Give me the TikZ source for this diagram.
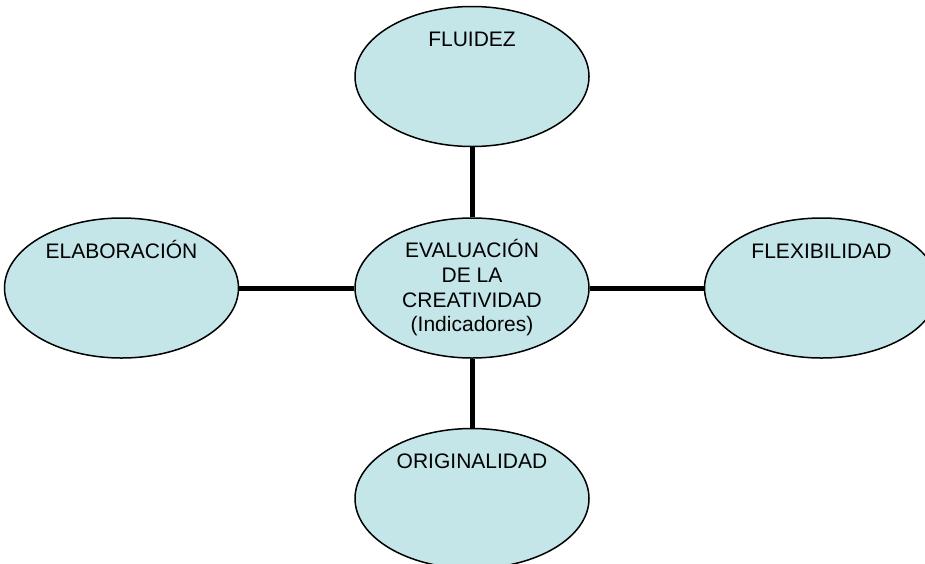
\documentclass[tikz,border=0pt]{standalone}
\usepackage{fontspec}
\setmainfont{Liberation Sans}
\usetikzlibrary{positioning, shapes.geometric}
\definecolor{ovalfill}{RGB}{196,230,232}

\begin{document}
\begin{tikzpicture}[
    every node/.style={font=\fontsize{21}{24.7}\selectfont},
    oval/.style={ellipse, draw, line width=1.5pt, fill=ovalfill, minimum width=234pt, minimum height=140pt, inner sep=0pt, align=center},
    item/.style={oval, label={[anchor=base, yshift=-41pt]north:#1}},
    link/.style={line width=5pt}
]

% Frame
\path[use as bounding box, clip] (0,0) rectangle (925pt,-563pt);

% Central node
\node[oval] (eval) at (472pt,-288pt) {EVALUACIÓN\\DE LA\\CREATIVIDAD\\(Indicadores)};

% Indicators
\node[item=FLUIDEZ, above=70pt of eval] (fluidez) {};
\node[item=ORIGINALIDAD, below=69pt of eval] (orig) {};
\node[item=ELABORACIÓN, left=115pt of eval] (elab) {};
\node[item=FLEXIBILIDAD, right=114pt of eval] (flex) {};

% Connections
\foreach \n in {fluidez, orig, elab, flex} {
    \draw[link] (eval) -- (\n);
}

\end{tikzpicture}
\end{document}
